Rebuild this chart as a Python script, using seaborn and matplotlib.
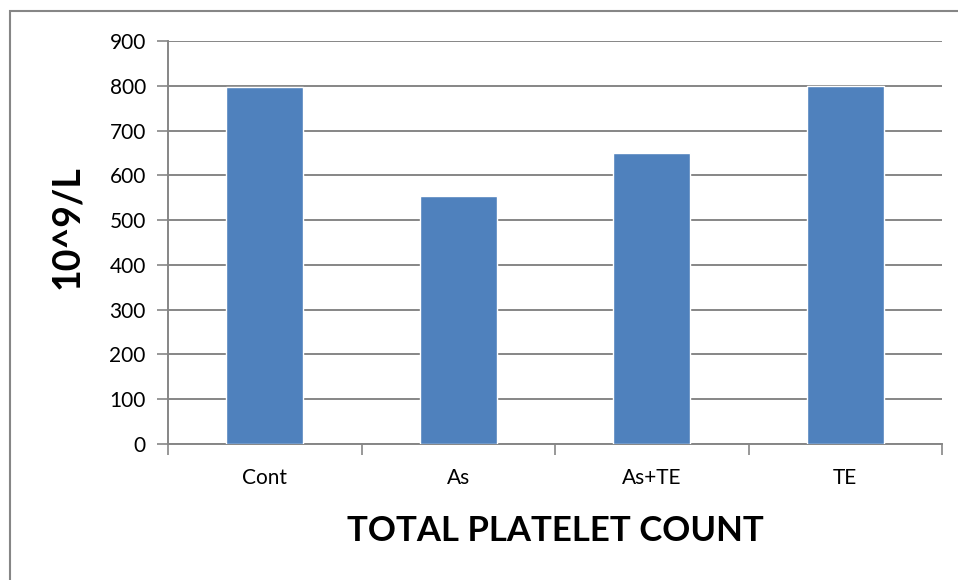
import matplotlib
matplotlib.use("Agg")
import matplotlib.pyplot as plt
import seaborn as sns
import pandas as pd
from matplotlib.patches import Rectangle

# Dati
groups = ["Cont", "As", "As+TE", "TE"]
platelets = [797, 553, 650, 800]
y_ticks = [0, 100, 200, 300, 400, 500, 600, 700, 800, 900]

BAR_COLOR = "#4F81BD"
GRID_COLOR = "#868686"

sns.set_theme(style="white")
plt.rcParams["font.family"] = ["Lato", "DejaVu Sans"]
plt.rcParams["text.color"] = "black"
plt.rcParams["axes.labelcolor"] = "black"

df = pd.DataFrame({"group": groups, "count": platelets})

fig = plt.figure(figsize=(9.58, 5.8), dpi=100)
ax = fig.add_axes([168 / 958, 1 - 444 / 580, (942 - 168) / 958, (444 - 41) / 580])

sns.barplot(data=df, x="group", y="count", color=BAR_COLOR, width=0.4,
            saturation=1, ax=ax, zorder=3)

ax.set_ylim(0, 900)
ax.set_xlim(-0.5, len(groups) - 0.5)
ax.set_yticks(y_ticks)
ax.yaxis.grid(True, color=GRID_COLOR, linewidth=1.4, zorder=0)
ax.set_axisbelow(True)

# tacche dell'asse x ai confini delle categorie
ax.set_xticks([i - 0.5 for i in range(len(groups) + 1)], minor=True)
ax.tick_params(axis="x", which="major", bottom=False, length=0, pad=17,
               labelsize=15, labelcolor="black")
ax.tick_params(axis="x", which="minor", bottom=True, length=8, width=1.2,
               color=GRID_COLOR, direction="out")
ax.tick_params(axis="y", which="major", left=True, length=8, width=1.2,
               color=GRID_COLOR, direction="out", pad=8, labelsize=15,
               labelcolor="black")

for side in ["top", "right"]:
    ax.spines[side].set_visible(False)
for side in ["left", "bottom"]:
    ax.spines[side].set_color(GRID_COLOR)
    ax.spines[side].set_linewidth(1.4)

ax.set_xlabel("TOTAL PLATELET COUNT", fontsize=25, fontweight="bold", labelpad=20)
ax.set_ylabel("10^9/L", fontsize=27, fontweight="bold")
ax.yaxis.set_label_coords(-0.108, 0.538)

# cornice esterna del grafico
fig.patches.append(Rectangle((10 / 958, -0.1), 1.2, 1.1 - 11 / 580,
                             transform=fig.transFigure, fill=False,
                             edgecolor=GRID_COLOR, linewidth=1.5))

fig.savefig("out.png", dpi=100)
